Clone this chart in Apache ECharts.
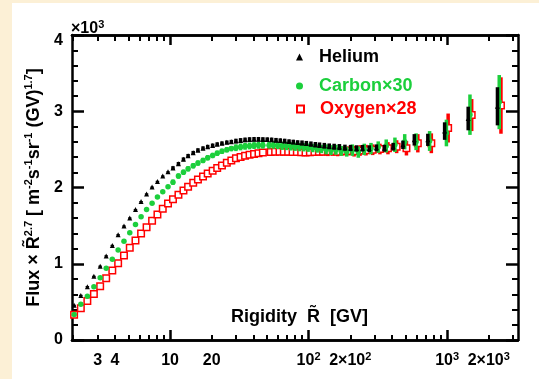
<!DOCTYPE html>
<html>
<head>
<meta charset="utf-8">
<script src="https://cdn.jsdelivr.net/npm/echarts@6/dist/echarts.min.js"></script>
<style>
  html, body { margin: 0; padding: 0; background: #fcf0d6; }
  #panel { position: absolute; left: 12px; top: 3px; right: 0; bottom: 0; background: #ffffff; }
  #chart { position: absolute; left: 0; top: 0; width: 539px; height: 379px; }
</style>
</head>
<body>
<div id="panel"></div>
<div id="chart"></div>
<script>
// ---- data ----
const rigidity = [2.03, 2.27, 2.53, 2.82, 3.13, 3.46, 3.83, 4.22, 4.65, 5.12,
  5.63, 6.18, 6.77, 7.42, 8.11, 8.86, 9.67, 10.5, 11.5, 12.5,
  13.5, 14.7, 15.9, 17.3, 18.7, 20.3, 21.9, 23.7, 25.7, 27.7,
  29.9, 32.3, 34.8, 37.5, 40.4, 43.5, 46.8, 50.3, 54.1, 58.2,
  62.5, 67.2, 72.3, 77.6, 83.4, 89.7, 96.4, 104, 112, 120,
  130, 141, 153, 167, 183, 201, 222, 245, 274, 309,
  353, 408, 480, 580, 726, 960, 1420, 2310];

const helium = [455, 585, 700, 835, 968, 1103, 1240, 1380, 1495, 1600,
  1710, 1815, 1915, 2005, 2080, 2150, 2205, 2255, 2310, 2370,
  2415, 2455, 2490, 2515, 2535, 2552, 2568, 2580, 2592, 2600,
  2610, 2618, 2625, 2630, 2632, 2632, 2630, 2628, 2625, 2620,
  2615, 2610, 2602, 2597, 2590, 2585, 2578, 2570, 2562, 2555,
  2548, 2540, 2535, 2530, 2522, 2518, 2512, 2515, 2510, 2520,
  2515, 2535, 2560, 2625, 2625, 2740, 2905, 3065];
const heliumErr = [8, 8, 8, 8, 8, 8, 8, 8, 8, 8,
  8, 8, 8, 8, 8, 8, 8, 25, 25, 25,
  25, 25, 25, 25, 25, 25, 25, 25, 25, 25,
  30, 30, 30, 30, 30, 30, 30, 30, 30, 30,
  30, 30, 30, 30, 30, 32, 33, 34, 35, 36,
  37, 38, 39, 40, 40, 41, 42, 43, 44, 45,
  45, 50, 55, 75, 80, 115, 155, 250];

const carbon = [335, 470, 575, 700, 815, 940, 1060, 1180, 1296, 1407,
  1515, 1615, 1710, 1795, 1875, 1945, 2010, 2070, 2150, 2200,
  2245, 2285, 2320, 2355, 2390, 2420, 2450, 2475, 2495, 2510,
  2522, 2532, 2540, 2545, 2550, 2553, 2555, 2555, 2553, 2550,
  2548, 2545, 2540, 2535, 2530, 2528, 2522, 2518, 2512, 2505,
  2500, 2490, 2495, 2480, 2470, 2490, 2465, 2500, 2510, 2530,
  2545, 2560, 2600, 2600, 2610, 2715, 2955, 3120];
const carbonErr = [12, 12, 12, 12, 12, 12, 12, 12, 12, 12,
  12, 12, 12, 12, 12, 12, 12, 35, 35, 35,
  35, 35, 35, 35, 35, 35, 35, 35, 35, 35,
  45, 45, 45, 45, 45, 45, 45, 45, 45, 45,
  55, 55, 55, 55, 55, 55, 55, 55, 55, 55,
  65, 65, 65, 65, 65, 75, 75, 75, 75, 75,
  85, 95, 100, 110, 130, 175, 265, 355];

const oxygen = [330, 416, 510, 603, 705, 809, 912, 1005, 1108, 1210,
  1306, 1398, 1480, 1563, 1645, 1720, 1789, 1847, 1906, 1960,
  2010, 2062, 2105, 2145, 2185, 2220, 2255, 2290, 2325, 2355,
  2382, 2400, 2418, 2430, 2440, 2450, 2458, 2464, 2468, 2470,
  2470, 2468, 2466, 2464, 2462, 2460, 2462, 2465, 2468, 2470,
  2472, 2475, 2470, 2478, 2480, 2476, 2485, 2490, 2495, 2505,
  2515, 2535, 2515, 2580, 2580, 2780, 2950, 3075];
const oxygenErr = [12, 12, 12, 12, 12, 12, 12, 12, 12, 12,
  12, 12, 12, 12, 12, 12, 12, 30, 30, 30,
  30, 30, 30, 30, 30, 30, 30, 30, 30, 30,
  40, 40, 40, 40, 40, 40, 40, 40, 40, 40,
  50, 50, 50, 50, 50, 50, 50, 50, 50, 50,
  60, 60, 60, 60, 60, 70, 70, 70, 70, 70,
  80, 85, 95, 120, 130, 190, 210, 370];

// C and O points displaced horizontally for clarity (flat high-rigidity part)
const shiftFrom = 50, shiftC = 1.03, shiftO = 1.06;

const xLabelValues = [3, 4, 10, 20, 100, 200, 1000, 2000];
const xMinorTicks = [2, 3, 4, 5, 6, 7, 8, 9, 20, 30, 40, 50, 60, 70, 80, 90,
  200, 300, 400, 500, 600, 700, 800, 900, 2000, 3000];
const xMajorTicks = [10, 100, 1000];
const xRange = [1.96, 3250];
const yRange = [0, 4000];
const yStep = 1000;

// ---- build ----
const FONT = '"Liberation Sans", Arial, Helvetica, sans-serif';
const GREEN = '#1ccf3c';
const RED = '#ff0000';
const SUP = { fontFamily: FONT, fontWeight: 'bold', fontSize: 11, color: '#000',
              verticalAlign: 'top', lineHeight: 11 };

function pts(vals, shift) {
  return rigidity.map((r, i) => [r > shiftFrom ? r * shift : r, vals[i]]);
}
function errs(vals, e, shift) {
  return rigidity.map((r, i) => [r > shiftFrom ? r * shift : r, vals[i] - e[i], vals[i] + e[i]]);
}
function errRender(color, w) {
  return function (params, api) {
    const a = api.coord([api.value(0), api.value(1)]);
    const b = api.coord([api.value(0), api.value(2)]);
    return { type: 'line', shape: { x1: a[0], y1: a[1], x2: b[0], y2: b[1] },
             style: { stroke: color, lineWidth: w } };
  };
}
function xLabelFmt(v) {
  if (v >= 100) {
    const e = Math.floor(Math.log10(v) + 1e-9);
    const m = Math.round(v / Math.pow(10, e));
    return '{b|' + (m === 1 ? '' : m + '×') + '10}{s|' + e + '}';
  }
  return '{b|' + v + '}';
}
const axisLineStyle = { color: '#000', width: 2.5 };
function xAxisDef(pos, ticks, len, width, labels) {
  return {
    type: 'log', logBase: 10, min: xRange[0], max: xRange[1], position: pos,
    axisLine: { show: true, onZero: false, lineStyle: axisLineStyle },
    splitLine: { show: false },
    minorTick: { show: false }, minorSplitLine: { show: false },
    axisTick: { show: true, inside: true, length: len, customValues: ticks,
                lineStyle: { color: '#000', width: width } },
    axisLabel: labels ? {
      show: true, customValues: xLabelValues, margin: 11, formatter: xLabelFmt,
      color: '#000', fontFamily: FONT, fontWeight: 'bold', fontSize: 16,
      rich: { b: { fontFamily: FONT, fontWeight: 'bold', fontSize: 16, color: '#000', lineHeight: 20 },
              s: SUP }
    } : { show: false }
  };
}
function yAxisDef(pos, labels) {
  return {
    type: 'value', min: yRange[0], max: yRange[1], interval: yStep, position: pos,
    axisLine: { show: true, onZero: false, lineStyle: axisLineStyle },
    splitLine: { show: false },
    axisTick: { show: true, inside: true, length: 12, lineStyle: { color: '#000', width: 2.5 } },
    minorTick: { show: true, splitNumber: 5, length: 6, lineStyle: { color: '#000', width: 2 } },
    axisLabel: labels ? {
      show: true, margin: 9, color: '#000', fontFamily: FONT, fontWeight: 'bold', fontSize: 16,
      formatter: v => v === yRange[1] ? '{t|' + (v / 1000) + '}' : String(v / 1000),
      rich: { t: { fontFamily: FONT, fontWeight: 'bold', fontSize: 16, color: '#000', padding: [12, 0, 0, 0] } }
    } : { show: false },
    name: labels ? '{b|Flux × R\u0303}{s|2.7}{b| [ m}{s|-2}{b|s}{s|-1}{b|sr}{s|-1}{b| (GV)}{s|1.7}{b|]}' : '',
    nameLocation: 'middle', nameRotate: 90, nameGap: 21,
    nameTextStyle: {
      rich: {
        b: { fontFamily: FONT, fontWeight: 'bold', fontSize: 18, color: '#000', lineHeight: 22 },
        s: SUP
      }
    }
  };
}
function legendDef(name, top, color) {
  return {
    data: [{ name: name, textStyle: { color: color } }],
    left: 296, top: top, padding: 0, itemWidth: 7, itemHeight: 7,
    selectedMode: false,
    textStyle: { fontFamily: FONT, fontWeight: 'bold', fontSize: 18, padding: [0, 0, 0, 11] }
  };
}

const chart = echarts.init(document.getElementById('chart'), null, { renderer: 'canvas' });
chart.setOption({
  animation: false,
  backgroundColor: 'transparent',
  grid: { left: 72, right: 21, top: 35, bottom: 39 },
  title: [
    { text: 'Rigidity  R\u0303  [GV]', right: 171, top: 308, padding: 0,
      textStyle: { fontFamily: FONT, fontWeight: 'bold', fontSize: 18, color: '#000' } },
    { text: '{b|×10}{s|3}', left: 71, top: 19, padding: 0,
      textStyle: { rich: { b: { fontFamily: FONT, fontWeight: 'bold', fontSize: 16, color: '#000', lineHeight: 20 },
                           s: SUP } } }
  ],
  legend: [
    legendDef('Helium', 48, '#000'),
    legendDef('Carbon×30', 77, GREEN),
    legendDef('Oxygen×28', 100, RED)
  ],
  xAxis: [
    xAxisDef('bottom', xMinorTicks, 5, 2, true),
    xAxisDef('bottom', xMajorTicks, 10, 2.5, false),
    xAxisDef('top', xMinorTicks, 6, 2, false),
    xAxisDef('top', xMajorTicks, 10, 2.5, false)
  ],
  yAxis: [yAxisDef('left', true), yAxisDef('right', false)],
  series: [
    { type: 'custom', name: 'O err', renderItem: errRender(RED, 3.5), data: errs(oxygen, oxygenErr, shiftO),
      encode: { x: 0, y: [1, 2] }, z: 2, silent: true },
    { type: 'scatter', name: 'Oxygen×28', data: pts(oxygen, shiftO), symbol: 'rect', symbolSize: 6.5,
      itemStyle: { color: '#fff', borderColor: RED, borderWidth: 1.5, opacity: 1 }, z: 3 },
    { type: 'custom', name: 'C err', renderItem: errRender(GREEN, 3.5), data: errs(carbon, carbonErr, shiftC),
      encode: { x: 0, y: [1, 2] }, z: 4, silent: true },
    { type: 'scatter', name: 'Carbon×30', data: pts(carbon, shiftC), symbol: 'circle', symbolSize: 5.5,
      itemStyle: { color: GREEN, opacity: 1 }, z: 5 },
    { type: 'custom', name: 'He err', renderItem: errRender('#000', 3.5), data: errs(helium, heliumErr, 1),
      encode: { x: 0, y: [1, 2] }, z: 6, silent: true },
    { type: 'scatter', name: 'Helium', data: pts(helium, 1), symbol: 'triangle', symbolSize: 5,
      itemStyle: { color: '#000', opacity: 1 }, z: 7 }
  ]
});
</script>
</body>
</html>
